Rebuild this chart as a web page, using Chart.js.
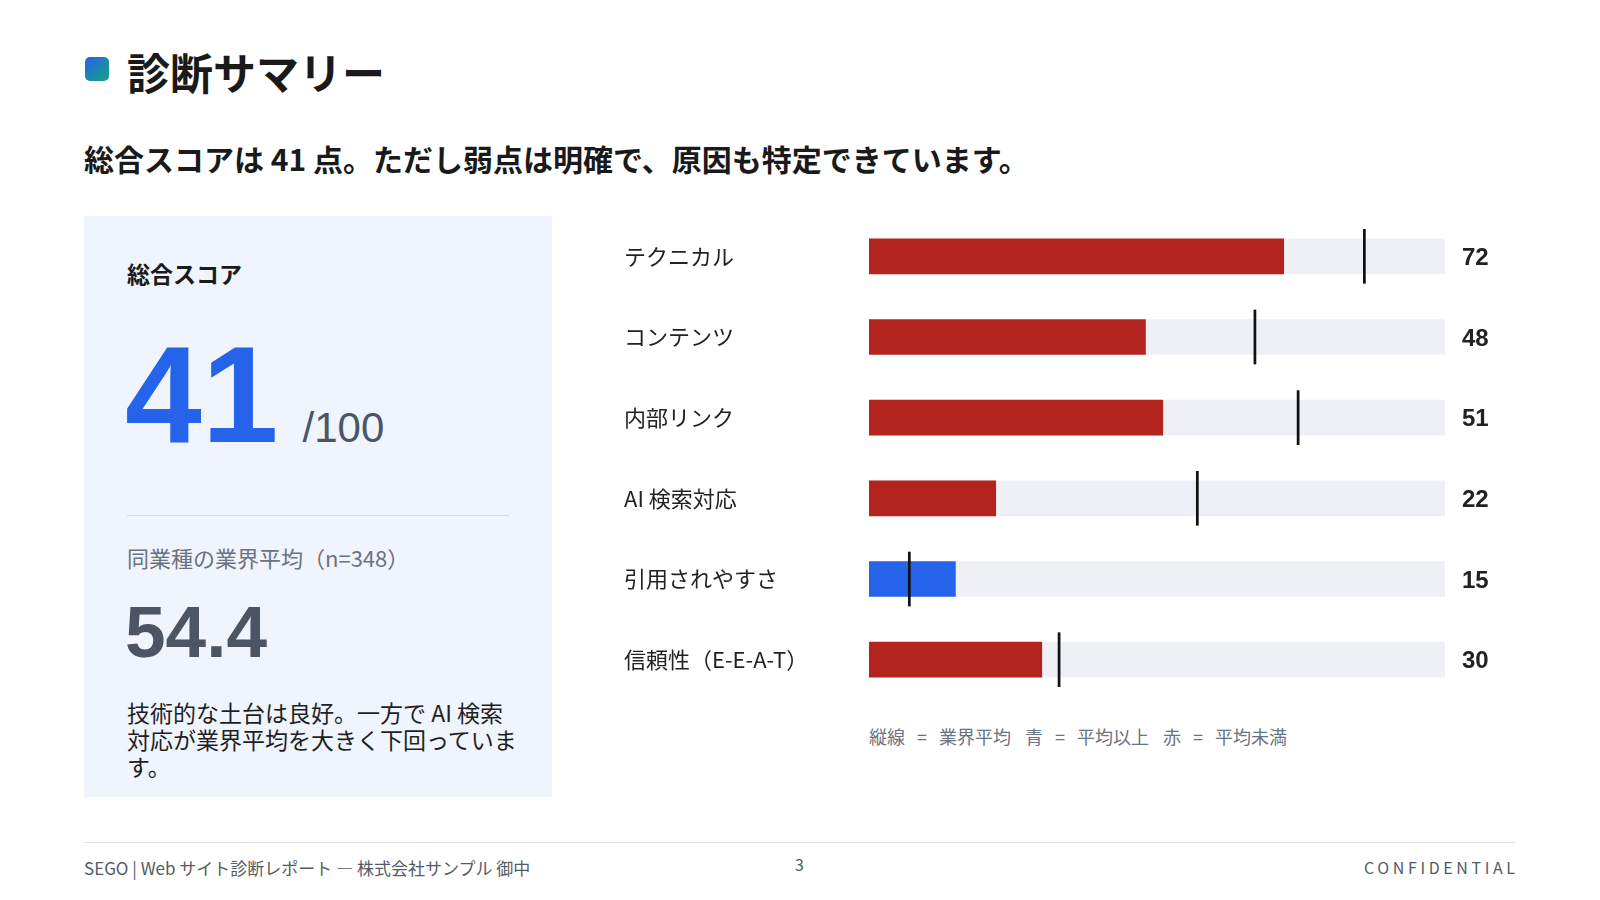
<!DOCTYPE html>
<html lang="ja">
<head>
<meta charset="utf-8">
<title>診断サマリー</title>
<script src="https://cdn.jsdelivr.net/npm/chart.js@4.4.1/dist/chart.umd.min.js"></script>
<style>
  html, body { margin: 0; padding: 0; background: #fff; }
  body { width: 1600px; height: 900px; position: relative; overflow: hidden;
         font-family: "Noto Sans CJK JP", "Noto Sans", sans-serif; color: #1f1f1f; }
  .abs { position: absolute; white-space: nowrap; }
  .icon { left: 85px; top: 57px; width: 24px; height: 24px; border-radius: 5px;
          background: linear-gradient(135deg, #2563eb 0%, #14a37f 100%); }
  .title { left: 127px; top: 50px; font-size: 43px; font-weight: 700; line-height: 1; color: #1a1a1a; }
  .subtitle { left: 84px; top: 143px; font-size: 30px; font-weight: 700; line-height: 1; color: #1a1a1a; }
  .card { left: 84px; top: 216px; width: 468px; height: 581px; background: #eff4fd; }
  .card-label { left: 127px; top: 262px; font-size: 23px; font-weight: 700; line-height: 1; color: #1a1a1a; }
  .score { left: 125px; top: 325px; line-height: 1; font-family: "Liberation Sans", Arial, sans-serif; }
  .score .big { font-size: 138px; font-weight: 700; color: #2563eb; }
  .score .max { font-size: 42px; color: #4b5563; margin-left: 24px; }
  .divider { left: 127px; top: 515px; width: 382px; height: 1px; background: #d3d9e3; }
  .avg-label { left: 127px; top: 546px; font-size: 22px; line-height: 1; color: #6b7280; }
  .avg { left: 125px; top: 595px; font-size: 73px; font-weight: 700; line-height: 1; color: #4b5563;
         font-family: "Liberation Sans", Arial, sans-serif; }
  .desc { left: 127px; top: 699px; font-size: 23px; line-height: 27px; color: #1f1f1f; }
  .chart-box { left: 600px; top: 200px; width: 940px; height: 510px; }
  .note { left: 869px; top: 727px; font-size: 18px; line-height: 1; color: #6b7280; }
  .note .eq { display: inline-block; width: 34px; text-align: center; }
  .note .gap { display: inline-block; width: 14px; }
  .rule { left: 84px; top: 842px; width: 1431px; height: 1px; background: #dcdfe4; }
  .foot { top: 859px; font-size: 17px; line-height: 1; color: #555b66; }
  .foot-left { left: 84px; }
  .foot-mid { left: 795px; top: 856px; font-size: 16px; }
  .foot-right { right: 85px; letter-spacing: 3.6px; font-size: 16px; margin-right: -3.6px; }
</style>
</head>
<body>
  <div class="abs icon"></div>
  <div class="abs title">診断サマリー</div>
  <div class="abs subtitle">総合スコアは 41 点。ただし弱点は明確で、原因も特定できています。</div>

  <div class="abs card"></div>
  <div class="abs card-label">総合スコア</div>
  <div class="abs score"><span class="big">41</span><span class="max">/100</span></div>
  <div class="abs divider"></div>
  <div class="abs avg-label">同業種の業界平均（n=348）</div>
  <div class="abs avg">54.4</div>
  <div class="abs desc">技術的な土台は良好。一方で AI 検索<br>対応が業界平均を大きく下回っていま<br>す。</div>

  <div class="abs chart-box"><canvas id="chart"></canvas></div>
  <div class="abs note">縦線<span class="eq">=</span>業界平均<span class="gap"></span>青<span class="eq">=</span>平均以上<span class="gap"></span>赤<span class="eq">=</span>平均未満</div>

  <div class="abs rule"></div>
  <div class="abs foot foot-left">SEGO | Web サイト診断レポート — 株式会社サンプル 御中</div>
  <div class="abs foot foot-mid">3</div>
  <div class="abs foot foot-right">CONFIDENTIAL</div>

<script>
// 項目とスコア
const categories = ['テクニカル', 'コンテンツ', '内部リンク', 'AI 検索対応', '引用されやすさ', '信頼性（E-E-A-T）'];
const scores = [72, 48, 51, 22, 15, 30];
// 業界平均（縦線）
const industryAvg = [86, 67, 74.5, 57, 7, 33];
const maxScore = 100;

const RED = '#b3241f';
const BLUE = '#2563eb';
const TRACK = '#eef0f6';

// 平均以上は青、未満は赤
const barColors = scores.map((s, i) => s >= industryAvg[i] ? BLUE : RED);

// 軸ラベル分の上下余白を消して行間を固定する
const fixAxis = width => s => {
    s.width = width;
    s.paddingTop = 0;
    s.paddingBottom = 0;
};

const data = {
    labels: categories,
    datasets: [
        {
            label: '業界平均',
            data: industryAvg.map(a => [a - 0.18, a + 0.18]),
            backgroundColor: '#111111',
            barThickness: 54,
            grouped: false,
            order: 0
        },
        {
            label: 'スコア',
            data: scores,
            backgroundColor: barColors,
            barThickness: 35,
            grouped: false,
            order: 1
        },
        {
            label: '満点',
            data: categories.map(() => maxScore),
            backgroundColor: TRACK,
            barThickness: 35,
            grouped: false,
            order: 2
        }
    ]
};

const config = {
    type: 'bar',
    data: data,
    options: {
        indexAxis: 'y',
        responsive: true,
        maintainAspectRatio: false,
        animation: false,
        layout: { padding: { left: 24, top: 16, bottom: 10, right: 0 } },
        plugins: {
            legend: { display: false },
            tooltip: { enabled: false }
        },
        scales: {
            x: { min: 0, max: maxScore, display: false },
            y: {
                position: 'left',
                grid: { display: false, drawTicks: false },
                border: { display: false },
                ticks: {
                    crossAlign: 'far',
                    color: '#222222',
                    font: { family: '"Noto Sans CJK JP", sans-serif', size: 22 }
                },
                afterFit: fixAxis(245)
            },
            y2: {
                type: 'category',
                labels: scores.map(String),
                position: 'right',
                offset: true,
                grid: { display: false, drawTicks: false },
                border: { display: false },
                ticks: {
                    crossAlign: 'near',
                    padding: 17,
                    labelOffset: 2,
                    color: '#222222',
                    font: { family: '"Liberation Sans", Arial, sans-serif', size: 24, weight: 'bold' }
                },
                afterFit: fixAxis(95)
            }
        }
    }
};

const chart = new Chart(document.getElementById('chart'), config);
</script>
</body>
</html>
